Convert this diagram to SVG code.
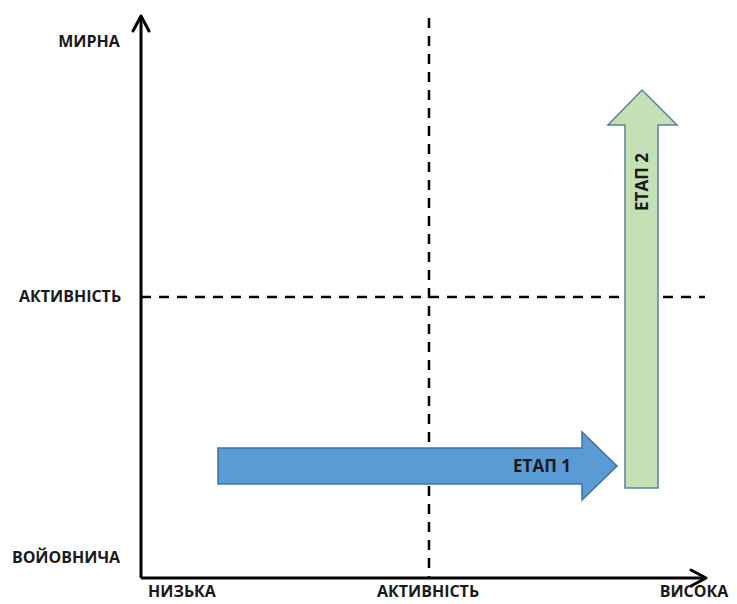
<svg xmlns="http://www.w3.org/2000/svg" width="737" height="604" viewBox="0 0 737 604">
<style>
.lbl{font-family:"Open Sans","Liberation Sans",sans-serif;font-weight:bold;font-size:16px;fill:#1a1a1a}
.axis{stroke:#000;stroke-width:3;fill:none}
.dash{stroke:#000;stroke-width:2.5;stroke-dasharray:10 8;fill:none}
.head{stroke:#000;stroke-width:3;fill:none;stroke-linecap:round;stroke-linejoin:round}
.stage{font-family:"Open Sans","Liberation Sans",sans-serif;font-weight:bold;font-size:17px;fill:#1a1a1a}
</style>
<rect width="737" height="604" fill="#fff"/>
<g id="connectors">
<line class="dash" x1="429" y1="18" x2="429" y2="578"/>
<line class="dash" x1="141" y1="297" x2="705" y2="297"/>
<line class="axis" x1="141" y1="578" x2="141" y2="17"/>
<polyline class="head" points="133,31 141,16 149,31"/>
<line class="axis" x1="141" y1="578" x2="705" y2="578"/>
<polyline class="head" points="691,570 706,578 691,586"/>
</g>
<g id="axis-labels">
<text class="lbl" x="89" y="47" text-anchor="middle">МИРНА</text>
<text class="lbl" x="70" y="302" text-anchor="middle">АКТИВНІСТЬ</text>
<text class="lbl" x="66" y="563" text-anchor="middle">ВОЙОВНИЧА</text>
<text class="lbl" x="182" y="597" text-anchor="middle">НИЗЬКА</text>
<text class="lbl" x="428" y="597" text-anchor="middle">АКТИВНІСТЬ</text>
<text class="lbl" x="694" y="597" text-anchor="middle">ВИСОКА</text>
</g>
<g id="stage1">
<polygon points="218,448 582,448 582,432 617,466 582,500 582,484 218,484" fill="#5b9bd5" stroke="#41719c" stroke-width="1.5"/>
<text class="stage" x="542" y="472" text-anchor="middle">ЕТАП 1</text>
</g>
<g id="stage2">
<polygon points="625,488 625,125 608,125 642,90 677,125 658,125 658,488" fill="#c5e0b4" stroke="#5f7f96" stroke-width="1.5"/>
<text class="stage" transform="translate(648,182) rotate(-90)" text-anchor="middle">ЕТАП 2</text>
</g>
</svg>
